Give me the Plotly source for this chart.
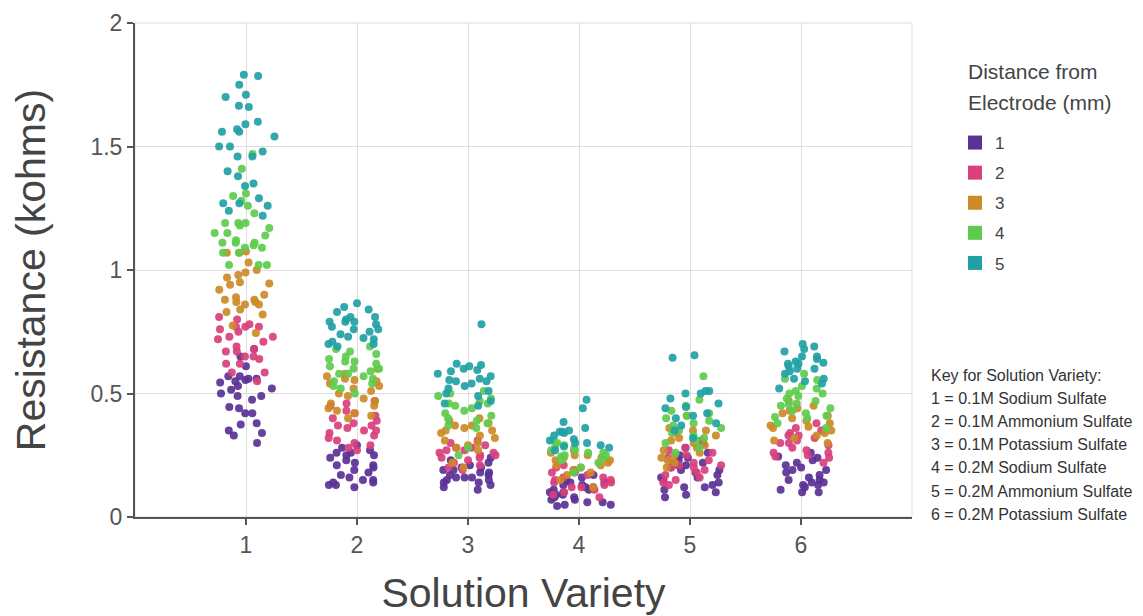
import plotly.graph_objects as go

# ---------------- data ----------------
categories = [1, 2, 3, 4, 5, 6]
distance_labels = ["1", "2", "3", "4", "5"]
legend_title_lines = ["Distance from", "Electrode (mm)"]
key_lines = [
    "Key for Solution Variety:",
    "1 = 0.1M Sodium Sulfate",
    "2 = 0.1M Ammonium Sulfate",
    "3 = 0.1M Potassium Sulfate",
    "4 = 0.2M Sodium Sulfate",
    "5 = 0.2M Ammonium Sulfate",
    "6 = 0.2M Potassium Sulfate",
]

# resistance (kohms) per distance, one list per solution variety 1..6
res_d1 = [
    [0.68, 0.65, 0.61, 0.57, 0.57, 0.56, 0.56, 0.555, 0.55, 0.545, 0.53, 0.52, 0.515, 0.50,
     0.49, 0.49, 0.475, 0.445, 0.44, 0.42, 0.42, 0.38, 0.375, 0.35, 0.34, 0.33, 0.30],
    [0.29, 0.28, 0.27, 0.26, 0.26, 0.25, 0.24, 0.23, 0.22, 0.21, 0.20, 0.19, 0.18, 0.17,
     0.16, 0.15, 0.15, 0.14, 0.14, 0.13, 0.13, 0.12, 0.25, 0.21],
    [0.24, 0.23, 0.22, 0.21, 0.20, 0.20, 0.19, 0.19, 0.18, 0.18, 0.17, 0.17, 0.16, 0.16,
     0.15, 0.15, 0.14, 0.13, 0.12, 0.11, 0.16, 0.14],
    [0.17, 0.16, 0.15, 0.14, 0.14, 0.13, 0.13, 0.12, 0.12, 0.11, 0.11, 0.10, 0.10, 0.09,
     0.09, 0.08, 0.08, 0.07, 0.07, 0.06, 0.06, 0.05, 0.045, 0.05],
    [0.30, 0.28, 0.26, 0.25, 0.24, 0.23, 0.22, 0.21, 0.21, 0.20, 0.19, 0.19, 0.18, 0.17,
     0.16, 0.16, 0.15, 0.14, 0.13, 0.12, 0.12, 0.11, 0.10, 0.09, 0.08],
    [0.26, 0.245, 0.24, 0.23, 0.22, 0.21, 0.20, 0.19, 0.19, 0.18, 0.17, 0.16, 0.15, 0.15,
     0.14, 0.14, 0.13, 0.13, 0.12, 0.11, 0.10, 0.10],
]
res_d2 = [
    [0.81, 0.80, 0.78, 0.77, 0.77, 0.77, 0.76, 0.75, 0.73, 0.73, 0.72, 0.71, 0.69, 0.68,
     0.67, 0.67, 0.65, 0.65, 0.64, 0.62, 0.62, 0.585, 0.585, 0.55],
    [0.47, 0.46, 0.45, 0.43, 0.42, 0.41, 0.40, 0.39, 0.38, 0.37, 0.37, 0.36, 0.35, 0.35,
     0.34, 0.33, 0.32, 0.31, 0.30, 0.29, 0.28, 0.27],
    [0.31, 0.30, 0.29, 0.28, 0.28, 0.27, 0.27, 0.26, 0.26, 0.25, 0.25, 0.24, 0.24, 0.23,
     0.22, 0.21, 0.20, 0.19],
    [0.21, 0.20, 0.19, 0.18, 0.18, 0.17, 0.16, 0.16, 0.15, 0.15, 0.14, 0.14, 0.13, 0.12,
     0.12, 0.11, 0.10, 0.09, 0.08],
    [0.31, 0.28, 0.27, 0.26, 0.25, 0.24, 0.23, 0.22, 0.22, 0.21, 0.21, 0.20, 0.20, 0.19,
     0.18, 0.17, 0.16, 0.15, 0.14, 0.13],
    [0.38, 0.36, 0.35, 0.34, 0.33, 0.33, 0.32, 0.31, 0.30, 0.30, 0.29, 0.28, 0.27, 0.26,
     0.26, 0.25, 0.245, 0.24, 0.22],
]
res_d3 = [
    [1.075, 1.07, 1.07, 1.03, 1.00, 0.99, 0.98, 0.97, 0.95, 0.945, 0.94, 0.92, 0.90, 0.89,
     0.88, 0.88, 0.87, 0.87, 0.86, 0.86, 0.84, 0.83, 0.82, 0.775, 0.745],
    [0.60, 0.58, 0.57, 0.56, 0.555, 0.55, 0.54, 0.53, 0.52, 0.51, 0.50, 0.49, 0.48, 0.47,
     0.46, 0.45, 0.44, 0.43, 0.42, 0.41, 0.40],
    [0.40, 0.39, 0.38, 0.37, 0.37, 0.36, 0.35, 0.35, 0.34, 0.33, 0.32, 0.31, 0.30, 0.29,
     0.28, 0.27, 0.22, 0.20],
    [0.27, 0.26, 0.25, 0.25, 0.24, 0.24, 0.23, 0.23, 0.22, 0.21, 0.21, 0.20, 0.19, 0.18,
     0.17, 0.15, 0.12],
    [0.41, 0.36, 0.35, 0.35, 0.34, 0.33, 0.32, 0.31, 0.30, 0.29, 0.28, 0.27, 0.26, 0.25,
     0.24, 0.23, 0.22, 0.20],
    [0.47, 0.45, 0.44, 0.43, 0.42, 0.41, 0.40, 0.39, 0.38, 0.37, 0.365, 0.36, 0.35, 0.34,
     0.33, 0.32, 0.31, 0.30],
]
res_d4 = [
    [1.47, 1.41, 1.31, 1.30, 1.28, 1.26, 1.23, 1.19, 1.19, 1.19, 1.18, 1.17, 1.15, 1.15,
     1.14, 1.12, 1.11, 1.11, 1.11, 1.10, 1.09, 1.09, 1.07, 1.07, 1.02, 1.02, 1.02],
    [0.69, 0.68, 0.67, 0.66, 0.65, 0.64, 0.63, 0.63, 0.62, 0.61, 0.60, 0.60, 0.59, 0.58,
     0.58, 0.57, 0.56, 0.55, 0.54, 0.53, 0.52, 0.50],
    [0.51, 0.50, 0.49, 0.48, 0.47, 0.46, 0.46, 0.45, 0.44, 0.43, 0.42, 0.41, 0.40, 0.39,
     0.38, 0.37, 0.36, 0.28, 0.25],
    [0.31, 0.30, 0.29, 0.28, 0.28, 0.27, 0.27, 0.26, 0.26, 0.25, 0.25, 0.245, 0.24, 0.23,
     0.22, 0.20, 0.18],
    [0.57, 0.475, 0.45, 0.43, 0.42, 0.41, 0.40, 0.39, 0.38, 0.37, 0.36, 0.35, 0.34, 0.33,
     0.32, 0.31, 0.30, 0.28, 0.26],
    [0.58, 0.56, 0.555, 0.53, 0.52, 0.51, 0.50, 0.50, 0.49, 0.48, 0.47, 0.46, 0.455, 0.45,
     0.44, 0.43, 0.42, 0.41, 0.405, 0.40, 0.38, 0.36],
]
res_d5 = [
    [1.79, 1.785, 1.75, 1.71, 1.70, 1.665, 1.66, 1.60, 1.59, 1.57, 1.56, 1.56, 1.54, 1.50,
     1.50, 1.48, 1.46, 1.46, 1.40, 1.38, 1.35, 1.34, 1.29, 1.27, 1.27, 1.26, 1.24, 1.22],
    [0.865, 0.85, 0.84, 0.83, 0.81, 0.81, 0.80, 0.79, 0.79, 0.79, 0.78, 0.77, 0.76, 0.76,
     0.75, 0.74, 0.73, 0.725, 0.72, 0.71, 0.70, 0.70, 0.69],
    [0.78, 0.62, 0.615, 0.61, 0.60, 0.595, 0.59, 0.58, 0.57, 0.56, 0.555, 0.55, 0.55, 0.54,
     0.53, 0.52, 0.51, 0.50, 0.49, 0.47, 0.46, 0.45],
    [0.475, 0.44, 0.385, 0.36, 0.35, 0.345, 0.345, 0.34, 0.33, 0.315, 0.31, 0.30, 0.30, 0.29,
     0.285, 0.28, 0.27],
    [0.655, 0.645, 0.51, 0.51, 0.50, 0.50, 0.48, 0.46, 0.445, 0.44, 0.42, 0.41, 0.40, 0.38,
     0.37, 0.35, 0.32],
    [0.70, 0.69, 0.68, 0.67, 0.65, 0.65, 0.64, 0.63, 0.62, 0.625, 0.62, 0.61, 0.60, 0.60,
     0.59, 0.58, 0.56, 0.56, 0.55, 0.54, 0.52],
]
res_by_distance = [res_d1, res_d2, res_d3, res_d4, res_d5]

colors = ["#5a3195", "#d9407c", "#cd8a26", "#5dcc4d", "#22a1a5"]

# ---------------- layout geometry (page pixels; page body has an 8px margin) ----------------
OFF = 8
W, H = 1143 - OFF, 616 - OFF
PLOT_L, PLOT_R, PLOT_T, PLOT_B = 135, 912, 23, 517   # target page coords
ML, MR = PLOT_L - OFF, W - (PLOT_R - OFF)
MT, MB = PLOT_T - OFF, H - (PLOT_B - OFF)
PW, PH = PLOT_R - PLOT_L, PLOT_B - PLOT_T
FONT = "Liberation Sans, Arial, sans-serif"


def px_x(px):
    return (px - PLOT_L) / PW


def px_y(py):
    return (PLOT_B - py) / PH


fig = go.Figure()

for i, lab in enumerate(distance_labels):
    xs, ys = [], []
    for cat, vals in zip(categories, res_by_distance[i]):
        xs += [cat] * len(vals)
        ys += vals
    fig.add_trace(go.Box(
        x=xs, y=ys, boxpoints="all", jitter=1, pointpos=0, width=0.58,
        marker=dict(color=colors[i], size=8, opacity=0.92, line=dict(width=0)),
        line=dict(width=0, color="rgba(0,0,0,0)"), fillcolor="rgba(0,0,0,0)",
        showlegend=False, hoveron="points", name=lab,
    ))
    fig.add_trace(go.Scatter(
        x=[None], y=[None], mode="markers", name=lab, legendgroup=lab,
        marker=dict(symbol="square", size=14, color=colors[i]),
    ))

annotations = []
for j, line in enumerate(legend_title_lines):
    annotations.append(dict(
        text=line, xref="paper", yref="paper", x=px_x(966), y=px_y(72 + j * 30),
        xanchor="left", yanchor="middle", showarrow=False,
        font=dict(family=FONT, size=21, color="#444"),
    ))
key_top, key_step = 375, 23.2
for j, line in enumerate(key_lines):
    annotations.append(dict(
        text=line, xref="paper", yref="paper", x=px_x(929), y=px_y(key_top + j * key_step),
        xanchor="left", yanchor="middle", showarrow=False,
        font=dict(family=FONT, size=16, color="#333"),
    ))

fig.update_layout(
    width=W, height=H,
    margin=dict(l=ML, r=MR, t=MT, b=MB, pad=0, autoexpand=False),
    paper_bgcolor="white", plot_bgcolor="white",
    boxmode="overlay",
    font=dict(family=FONT, color="#444"),
    xaxis=dict(
        range=[0, 7], tickvals=categories, ticktext=[str(c) for c in categories],
        showgrid=True, gridcolor="#dedede", gridwidth=1,
        showline=True, linecolor="#555", linewidth=2,
        ticks="outside", ticklen=6, tickcolor="#555", tickwidth=1.5,
        tickfont=dict(size=23, color="#555"),
        zeroline=False,
        title=dict(text="Solution Variety", font=dict(size=41, color="#444"), standoff=25),
    ),
    yaxis=dict(
        range=[0, 2], tickvals=[0, 0.5, 1, 1.5, 2], ticktext=["0", "0.5", "1", "1.5", "2"],
        showgrid=True, gridcolor="#dedede", gridwidth=1,
        showline=True, linecolor="#555", linewidth=2,
        ticks="outside", ticklen=6, tickcolor="#555", tickwidth=1.5,
        tickfont=dict(size=23, color="#555"),
        zeroline=False,
        title=dict(text="Resistance (kohms)", font=dict(size=41, color="#444"), standoff=34),
    ),
    legend=dict(
        x=px_x(955), y=px_y(125), xanchor="left", yanchor="top",
        font=dict(size=17, color="#444"),
        tracegroupgap=5, bgcolor="rgba(0,0,0,0)",
    ),
    shapes=[dict(type="rect", xref="paper", yref="paper", x0=0, y0=0, x1=1, y1=1,
                 line=dict(color="#dedede", width=1), layer="below")],
    annotations=annotations,
    showlegend=True,
)

fig.write_html("out.html")
